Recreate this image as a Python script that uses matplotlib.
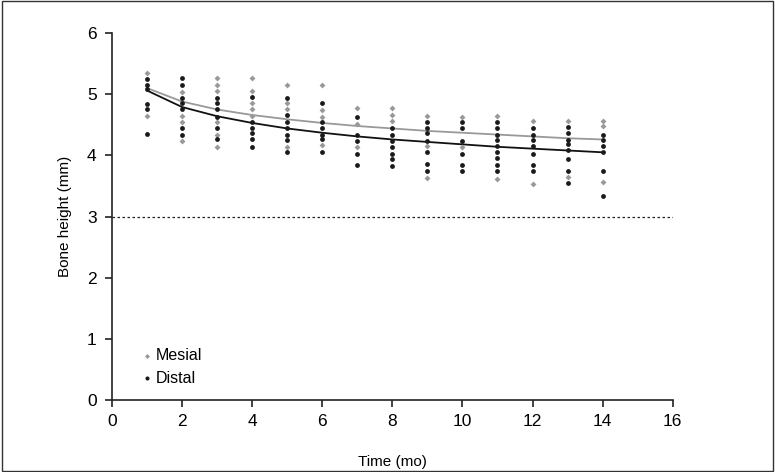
import numpy as np
import matplotlib
matplotlib.use("Agg")
import matplotlib.pyplot as plt
from matplotlib.patches import Rectangle

plt.rcParams['font.family'] = ['Liberation Sans', 'DejaVu Sans']

# scatter values read per month (mm)
mesial = {
    1: [5.35, 4.65],
    2: [5.04, 4.65, 4.55, 4.23],
    3: [5.26, 5.15, 5.05, 4.55, 4.34, 4.14],
    4: [5.26, 5.05, 4.85, 4.75, 4.65],
    5: [5.15, 4.85, 4.75, 4.14],
    6: [5.15, 4.74, 4.63, 4.17],
    7: [4.77, 4.51, 4.14],
    8: [4.77, 4.66, 4.56],
    9: [4.65, 4.15, 3.63],
    10: [4.63, 4.14],
    11: [4.65, 3.61],
    12: [4.56, 3.54],
    13: [4.56, 3.65],
    14: [4.56, 4.48, 3.56],
}
distal = {
    1: [5.25, 5.15, 5.08, 4.84, 4.75, 4.35],
    2: [5.27, 5.15, 4.94, 4.85, 4.75, 4.45, 4.34],
    3: [4.94, 4.85, 4.75, 4.63, 4.45, 4.26],
    4: [4.96, 4.55, 4.45, 4.36, 4.26, 4.14],
    5: [4.94, 4.66, 4.55, 4.45, 4.34, 4.25, 4.05],
    6: [4.86, 4.55, 4.45, 4.34, 4.26, 4.05],
    7: [4.63, 4.33, 4.24, 4.03, 3.84],
    8: [4.45, 4.33, 4.24, 4.13, 4.03, 3.94, 3.83],
    9: [4.55, 4.45, 4.36, 4.24, 4.05, 3.86, 3.75],
    10: [4.55, 4.45, 4.23, 4.03, 3.85, 3.74],
    11: [4.55, 4.45, 4.34, 4.25, 4.16, 4.06, 3.96, 3.85, 3.74],
    12: [4.45, 4.34, 4.25, 4.15, 4.03, 3.85, 3.74],
    13: [4.47, 4.36, 4.25, 4.18, 4.08, 3.94, 3.74, 3.55],
    14: [4.34, 4.25, 4.15, 4.05, 3.74, 3.34],
}

# trend lines
trend_months = np.arange(1, 15)
mesial_trend = [5.10, 4.88, 4.75, 4.66, 4.59, 4.53, 4.48, 4.44, 4.40, 4.37, 4.34, 4.31, 4.28, 4.26]
distal_trend = [5.06, 4.79, 4.64, 4.53, 4.44, 4.37, 4.31, 4.26, 4.22, 4.18, 4.14, 4.11, 4.08, 4.05]

threshold = 3

mx = [m for m, vals in mesial.items() for v in vals]
my = [v for m, vals in mesial.items() for v in vals]
dx = [m for m, vals in distal.items() for v in vals]
dy = [v for m, vals in distal.items() for v in vals]

fig = plt.figure(figsize=(7.75, 4.72), dpi=100)
ax = fig.add_axes([0.1445, 0.1525, 0.7235, 0.7775])

ax.axhline(threshold, color='#222222', lw=0.9, ls=(0, (2, 2)))
ax.plot(trend_months, mesial_trend, color='#999999', lw=1.3)
ax.plot(trend_months, distal_trend, color='#111111', lw=1.3)
ax.scatter(mx, my, marker='D', s=9, color='#999999', linewidths=0, label='Mesial', zorder=3)
ax.scatter(dx, dy, marker='o', s=12, color='#1a1a1a', linewidths=0, label='Distal', zorder=4)

ax.set_xlim(0, 16)
ax.set_ylim(0, 6)
ax.set_xticks(range(0, 17, 2))
ax.set_yticks(range(0, 7))
ax.spines['top'].set_visible(False)
ax.spines['right'].set_visible(False)
for s in ['left', 'bottom']:
    ax.spines[s].set_linewidth(1.2)
    ax.spines[s].set_color('#222222')
ax.tick_params(direction='out', length=5, width=1.2, labelsize=12.5, color='#222222')
ax.tick_params(axis='y', pad=6)
ax.tick_params(axis='x', pad=5)
ax.set_xlabel('Time (mo)', fontsize=11, labelpad=19)
ax.set_ylabel('Bone height (mm)', fontsize=11, labelpad=11)

ax.legend(loc='lower left', bbox_to_anchor=(0.022, 0.0), frameon=False, fontsize=11.5,
          handletextpad=0.05, labelspacing=0.45, handlelength=1, markerscale=0.85)

fig.patches.append(Rectangle((0.002, 0.003), 0.996, 0.994, transform=fig.transFigure,
                             fill=False, edgecolor='#333333', lw=1))

fig.savefig('out.png', dpi=100)
